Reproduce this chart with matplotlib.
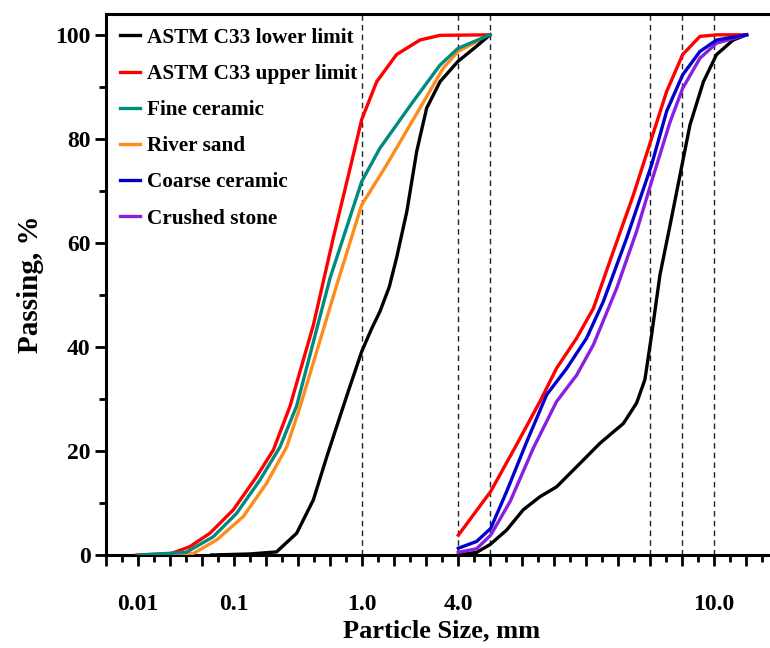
import matplotlib
matplotlib.use("Agg")
import matplotlib.pyplot as plt
from matplotlib.ticker import FixedLocator, FixedFormatter, MultipleLocator

plt.rcParams['font.family'] = ['Liberation Serif', 'DejaVu Serif']
plt.rcParams['font.weight'] = 'bold'

# x positions are in sieve-axis units (evenly spaced sieve ticks)
tick_positions = [1, 4, 8, 11, 19]
tick_labels = ["0.01", "0.1", "1.0", "4.0", "10.0"]
sieve_lines = [8, 11, 12, 17, 18, 19]

# Fine aggregate group
fine_lower_x = [3.3, 4.5, 5.33, 5.96, 6.48, 6.9, 7.31, 7.6, 7.99, 8.3, 8.56, 8.85, 9.08, 9.4, 9.71, 10.02, 10.44, 11.0, 11.58, 12.0]
fine_lower_y = [0.0, 0.2, 0.6, 4.2, 10.6, 18.9, 26.6, 32.0, 39.1, 43.5, 46.8, 51.5, 57.1, 66.0, 77.6, 85.9, 91.0, 94.9, 97.8, 100.0]

fine_upper_x = [0.96, 2.0, 2.62, 3.25, 3.98, 4.71, 5.23, 5.75, 6.48, 7.1, 7.63, 7.99, 8.46, 9.08, 9.81, 10.44, 12.0]
fine_upper_y = [0.0, 0.2, 1.6, 4.2, 8.7, 15.1, 20.2, 28.6, 44.2, 60.9, 74.4, 83.7, 91.0, 96.2, 99.0, 99.9, 100.0]

fine_ceramic_x = [1.0, 2.5, 3.35, 4.08, 4.81, 5.44, 5.96, 7.0, 7.99, 8.56, 9.6, 10.44, 11.0, 12.0]
fine_ceramic_y = [0.0, 0.5, 3.5, 8.0, 14.4, 20.8, 28.7, 53.2, 71.8, 78.2, 87.2, 94.2, 97.4, 100.0]

river_sand_x = [1.2, 2.73, 3.46, 4.29, 5.02, 5.65, 6.06, 7.21, 7.99, 8.77, 9.81, 10.54, 11.0, 12.0]
river_sand_y = [0.0, 0.3, 2.9, 7.4, 13.8, 20.8, 28.4, 51.9, 67.3, 75.0, 85.9, 93.6, 96.8, 100.0]

# Coarse aggregate group
coarse_lower_x = [11.0, 11.58, 12.0, 12.52, 13.04, 13.56, 14.08, 14.81, 15.44, 16.17, 16.58, 16.84, 17.05, 17.31, 17.63, 17.94, 18.25, 18.67, 19.08, 19.6, 20.02]
coarse_lower_y = [0.0, 0.5, 2.0, 4.8, 8.7, 11.2, 13.1, 17.6, 21.5, 25.3, 29.2, 33.7, 42.3, 53.8, 63.5, 73.1, 82.7, 91.0, 96.2, 99.0, 100.0]

coarse_upper_x = [11.01, 12.02, 12.83, 13.56, 14.08, 14.71, 15.23, 15.85, 16.48, 17.05, 17.52, 18.02, 18.56, 19.1, 20.02]
coarse_upper_y = [3.8, 12.2, 21.2, 29.5, 35.9, 41.7, 47.4, 58.3, 69.2, 80.1, 89.1, 96.2, 99.7, 100.0, 100.0]

coarse_ceramic_x = [11.01, 11.58, 12.02, 12.52, 13.15, 13.77, 14.4, 15.02, 15.54, 16.27, 17.05, 17.52, 18.02, 18.56, 19.08, 20.02]
coarse_ceramic_y = [1.3, 2.6, 5.1, 12.2, 21.8, 30.8, 35.9, 41.7, 48.7, 60.9, 75.0, 85.3, 92.3, 96.8, 99.0, 100.0]

crushed_stone_x = [11.01, 11.58, 12.02, 12.63, 13.35, 14.08, 14.71, 15.23, 15.96, 16.58, 17.05, 17.63, 18.02, 18.56, 19.08, 20.02]
crushed_stone_y = [0.5, 1.2, 3.8, 10.3, 20.5, 29.5, 34.6, 40.4, 51.3, 62.2, 71.8, 83.3, 89.7, 95.5, 98.4, 100.0]

c_black = "#000000"
c_red = "#FF0000"
c_teal = "#008B80"
c_orange = "#FF8C1A"
c_blue = "#0000CD"
c_purple = "#8A1FE0"

fig = plt.figure(figsize=(7.7, 6.48), dpi=100)
ax = fig.add_axes([106/770, 1 - 555/648, 672/770, (555 - 14)/648])

for xv in sieve_lines:
    ax.axvline(xv, color="#222222", lw=1.0, ls=(0, (4, 3)), zorder=1)

lw = 2.4
ax.plot(fine_lower_x, fine_lower_y, color=c_black, lw=lw, label="ASTM C33 lower limit", zorder=3)
ax.plot(fine_upper_x, fine_upper_y, color=c_red, lw=lw, label="ASTM C33 upper limit", zorder=3)
ax.plot(fine_ceramic_x, fine_ceramic_y, color=c_teal, lw=lw, label="Fine ceramic", zorder=3)
ax.plot(river_sand_x, river_sand_y, color=c_orange, lw=lw, label="River sand", zorder=2.9)
ax.plot([], [], color=c_blue, lw=lw, label="Coarse ceramic")
ax.plot([], [], color=c_purple, lw=lw, label="Crushed stone")

ax.plot(coarse_lower_x, coarse_lower_y, color=c_black, lw=lw, zorder=3)
ax.plot(coarse_upper_x, coarse_upper_y, color=c_red, lw=lw, zorder=3)
ax.plot(crushed_stone_x, crushed_stone_y, color=c_purple, lw=lw, zorder=3)
ax.plot(coarse_ceramic_x, coarse_ceramic_y, color=c_blue, lw=lw, zorder=3.1)

ax.set_xlim(0, 21)
ax.set_ylim(0, 104)

# x ticks: every integer major (labels only at sieve labels), half minor
major_pos = list(range(0, 22))
major_lab = [tick_labels[tick_positions.index(p)] if p in tick_positions else "" for p in major_pos]
ax.xaxis.set_major_locator(FixedLocator(major_pos))
ax.xaxis.set_major_formatter(FixedFormatter(major_lab))
ax.xaxis.set_minor_locator(MultipleLocator(0.5))

ax.yaxis.set_major_locator(FixedLocator([0, 20, 40, 60, 80, 100]))
ax.yaxis.set_minor_locator(FixedLocator([10, 30, 50, 70, 90]))

ax.tick_params(axis="both", which="major", direction="out", length=8, width=2.0, labelsize=17, pad=3)
ax.tick_params(axis="both", which="minor", direction="out", length=5, width=2.0)
ax.tick_params(axis="x", which="major", pad=20)
for lab in ax.get_xticklabels() + ax.get_yticklabels():
    lab.set_fontweight("bold")

for s in ["left", "bottom", "top", "right"]:
    ax.spines[s].set_linewidth(2.2)
ax.tick_params(top=False, right=False)

ax.set_xlabel("Particle Size, mm", fontsize=19, fontweight="bold", labelpad=3)
ax.set_ylabel("Passing, %", fontsize=21, fontweight="bold", labelpad=8)

leg = ax.legend(loc="upper left", frameon=False, fontsize=15.3, handlelength=0.95,
                handletextpad=0.35, labelspacing=0.76, borderaxespad=0.25,
                bbox_to_anchor=(0.0, 1.0))
for t in leg.get_texts():
    t.set_fontweight("bold")

fig.savefig("out.png", dpi=100)
